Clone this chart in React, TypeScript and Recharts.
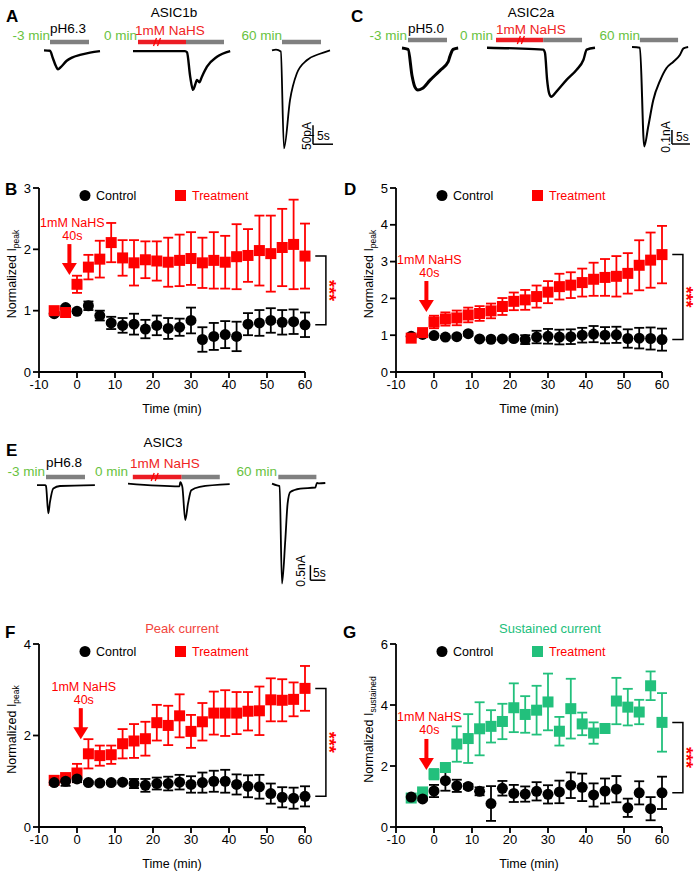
import React from "react"
import {
  ScatterChart, Scatter, XAxis, YAxis, ErrorBar, ReferenceDot, ReferenceArea,
  LineChart, Line, ReferenceLine,
} from "recharts"

const FONT = "'Liberation Sans', Arial, Helvetica, sans-serif"
const RED = "#ff0000"
const BAR_RED = "#ec1c24"
const TXT_RED = "#f02424"
const GREEN = "#22c07c"
const MIN_GREEN = "#68c23e"
const GRAY = "#808080"

// sampling times (min)
const TIMES = [-6, -3, 0, 3, 6, 9, 12, 15, 18, 21, 24, 27, 30, 33, 36, 39, 42, 45, 48, 51, 54, 57, 60]
const X_TICKS = [-10, 0, 10, 20, 30, 40, 50, 60]

// B - ASIC1b, normalized I peak
const B_CTRL = [0.95, 1.05, 0.99, 1.08, 0.92, 0.8, 0.76, 0.78, 0.7, 0.76, 0.71, 0.73, 0.84, 0.53, 0.58, 0.61, 0.58, 0.78, 0.8, 0.84, 0.81, 0.82, 0.77]
const B_CTRL_ERR = [0.03, 0.03, 0.03, 0.07, 0.08, 0.1, 0.12, 0.17, 0.15, 0.16, 0.17, 0.14, 0.21, 0.2, 0.22, 0.22, 0.24, 0.18, 0.21, 0.2, 0.2, 0.2, 0.2]
const B_TREAT = [1.0, 0.97, 1.43, 1.71, 1.84, 2.11, 1.86, 1.78, 1.83, 1.81, 1.79, 1.82, 1.85, 1.78, 1.82, 1.79, 1.88, 1.9, 1.98, 1.93, 2.03, 2.08, 1.89]
const B_TREAT_ERR = [0.03, 0.07, 0.14, 0.2, 0.3, 0.32, 0.29, 0.37, 0.3, 0.32, 0.4, 0.42, 0.43, 0.41, 0.46, 0.43, 0.53, 0.43, 0.57, 0.62, 0.63, 0.73, 0.53]

// D - ASIC2a, normalized I peak
const D_CTRL = [0.97, 1.02, 0.99, 0.95, 0.96, 1.04, 0.9, 0.89, 0.9, 0.91, 0.88, 0.95, 0.97, 0.95, 0.96, 1.0, 1.03, 1.0, 1.01, 0.91, 0.92, 0.91, 0.88]
const D_CTRL_ERR = [0.03, 0.03, 0.03, 0.03, 0.03, 0.05, 0.03, 0.03, 0.03, 0.05, 0.12, 0.17, 0.2, 0.2, 0.2, 0.2, 0.22, 0.22, 0.22, 0.25, 0.28, 0.3, 0.3]
const D_TREAT = [0.92, 1.07, 1.36, 1.44, 1.47, 1.55, 1.59, 1.66, 1.78, 1.92, 1.96, 2.05, 2.17, 2.32, 2.36, 2.43, 2.52, 2.57, 2.6, 2.68, 2.9, 3.04, 3.19]
const D_TREAT_ERR = [0.03, 0.04, 0.17, 0.18, 0.2, 0.2, 0.2, 0.2, 0.23, 0.24, 0.27, 0.3, 0.3, 0.35, 0.35, 0.38, 0.45, 0.5, 0.55, 0.55, 0.68, 0.75, 0.78]

// F - ASIC3, peak current
const F_CTRL = [0.97, 1.0, 1.05, 0.97, 0.96, 0.97, 0.98, 0.95, 0.91, 0.95, 0.95, 0.98, 0.93, 0.97, 1.0, 1.0, 0.93, 0.89, 0.88, 0.73, 0.65, 0.63, 0.67]
const F_CTRL_ERR = [0.03, 0.1, 0.07, 0.03, 0.03, 0.03, 0.03, 0.1, 0.14, 0.13, 0.15, 0.16, 0.18, 0.22, 0.23, 0.25, 0.22, 0.24, 0.26, 0.22, 0.22, 0.23, 0.22]
const F_TREAT = [1.02, 1.08, 1.18, 1.6, 1.56, 1.58, 1.82, 1.88, 1.93, 2.28, 2.22, 2.43, 2.09, 2.3, 2.49, 2.49, 2.49, 2.53, 2.54, 2.78, 2.77, 2.79, 3.03]
const F_TREAT_ERR = [0.03, 0.05, 0.2, 0.32, 0.22, 0.2, 0.32, 0.37, 0.37, 0.39, 0.43, 0.47, 0.36, 0.41, 0.47, 0.5, 0.46, 0.42, 0.53, 0.47, 0.46, 0.37, 0.49]

// G - ASIC3, sustained current
const G_CTRL = [0.98, 0.92, 1.18, 1.52, 1.35, 1.33, 1.17, 0.77, 1.27, 1.1, 1.08, 1.17, 1.07, 1.15, 1.37, 1.3, 1.05, 1.18, 1.24, 0.63, 1.12, 0.6, 1.12]
const G_CTRL_ERR = [0.05, 0.05, 0.2, 0.33, 0.2, 0.08, 0.13, 0.57, 0.24, 0.28, 0.25, 0.3, 0.3, 0.37, 0.42, 0.45, 0.38, 0.41, 0.43, 0.3, 0.38, 0.38, 0.53]
const G_TREAT = [0.95, 1.15, 1.73, 1.95, 2.72, 2.9, 3.22, 3.3, 3.46, 3.91, 3.69, 3.83, 4.1, 3.14, 3.88, 3.38, 3.08, 3.23, 4.13, 3.93, 3.77, 4.63, 3.43]
const G_TREAT_ERR = [0.05, 0.05, 0.17, 0.1, 0.58, 0.8, 0.87, 0.53, 0.58, 0.8, 0.6, 0.8, 0.93, 0.47, 0.98, 0.37, 0.35, 0.1, 0.76, 0.6, 0.4, 0.47, 0.96]

// example current traces: time (s) and current (pA for A, nA for C/E)
const A1_T = [0, 1.5, 2.2, 3, 3.5, 4.2, 5.6, 7, 9, 11.5, 14]
const A1_I = [0, -1, -20, -42, -50, -44, -28, -19, -12, -6, -2]
const A2_T = [0, 13, 13.5, 14.3, 15, 15.5, 16, 16.6, 17.2, 18.5, 21, 24.3]
const A2_I = [0, 0, -3, -67, -102, -90, -76, -82, -68, -41, -15, 0]
const A3_T = [0, 1, 2.2, 3, 4.5, 6.2, 8.7, 12, 14.5]
const A3_I = [0, 2, -3, -258, -131, -61, -26, -9, 0]

const C1_T = [0, 1.7, 2.8, 3.6, 4.4, 5.6, 7.8, 10.6, 12.8, 13.3, 14.2, 15.6]
const C1_I = [0, -0.01, -0.2, -0.28, -0.3, -0.29, -0.23, -0.16, -0.1, -0.06, -0.01, 0]
const C2_T = [0, 8, 15.6, 16.1, 16.7, 17.2, 17.8, 19.4, 22.1, 24.9, 26.8, 27.7, 30]
const C2_I = [0, -0.005, -0.014, -0.036, -0.23, -0.32, -0.35, -0.31, -0.23, -0.157, -0.086, -0.014, 0]
const C3_T = [0, 2.2, 3.4, 4.5, 5.9, 7.8, 9.6, 11.5, 13.3, 14.3, 15.6]
const C3_I = [0, -0.005, -0.71, -0.57, -0.38, -0.24, -0.15, -0.105, -0.057, -0.01, 0]

const E1_T = [0, 2.67, 3, 3.77, 4.33, 5.43, 7.67, 19.3]
const E1_I = [0, 0, -0.03, -0.94, -0.56, -0.11, -0.03, 0]
const E2_T = [0, 17.2, 17.4, 18.1, 19.1, 20, 21.1, 23.9, 33.9]
const E2_I = [0, -0.09, 0.05, -0.1, -1.22, -0.67, -0.22, -0.11, -0.02]
const E3_T = [0, 1.67, 2.53, 3.33, 4.43, 5.2, 6.1, 9.43, 14.43, 15, 15.6, 17.77]
const E3_I = [0, -0.06, -0.08, -3.33, -1.89, -0.67, -0.28, -0.17, -0.13, 0.02, 0.01, 0.02]

const rows = (v: number[], e: number[]) => TIMES.map((t, k) => ({ t, v: v[k], err: e[k] }))

const AX = { stroke: "#000", strokeWidth: 1.8 }
const TICK = { fontSize: 13, fill: "#000", fontFamily: FONT }

const circleShape = (p: any) => <circle cx={p.cx} cy={p.cy} r={5.5} fill="#000" />
const squareShape = (color: string) => (p: any) =>
  <rect x={p.cx - 5.5} y={p.cy - 5.5} width={11} height={11} fill={color} />

const bracket = (p: any) => {
  const { x, y, width, height } = p
  const xr = x + width
  return (
    <g>
      <polyline points={`${x},${y} ${xr},${y} ${xr},${y + height} ${x},${y + height}`}
        fill="none" stroke="#000" strokeWidth={1.5} />
      <text transform={`translate(${xr - 3},${y + height / 2}) rotate(90)`} textAnchor="middle"
        fontSize={18} fontWeight="bold" fill={RED} fontFamily={FONT}>***</text>
    </g>
  )
}

const arrowShape = (p: any) => {
  const { cx, cy } = p
  return (
    <g fontFamily={FONT} fontSize={12.5} fill={RED}>
      <text x={cx + 3} y={cy - 48.5} textAnchor="middle">1mM NaHS</text>
      <text x={cx + 3} y={cy - 35.5} textAnchor="middle">40s</text>
      <rect x={cx - 2} y={cy - 31} width={4} height={20} />
      <polygon points={`${cx - 7.5},${cy - 12} ${cx + 7.5},${cy - 12} ${cx},${cy}`} />
    </g>
  )
}

const xLabel = (p: any) => (
  <text x={p.viewBox.x + p.viewBox.width / 2} y={p.viewBox.y + 41} textAnchor="middle"
    fontSize={12.5} fill="#000" fontFamily={FONT}>Time (min)</text>
)

const yLabel = (sub: string) => (p: any) => {
  const cx = p.viewBox.x + 16
  const cy = p.viewBox.y + p.viewBox.height / 2 - 6
  return (
    <text transform={`translate(${cx},${cy}) rotate(-90)`} textAnchor="middle"
      fontSize={12.5} fill="#000" fontFamily={FONT}>
      Normalized I<tspan fontSize={8.5} dy={3}>{sub}</tspan>
    </text>
  )
}

function TimePanel({ left, plotTop, plotH, ctrl, ctrlErr, treat, treatErr, yMax, yTicks, color, arrow, sub, treatFirst }: any) {
  const last = TIMES.length - 1
  const sCtrl = (
    <Scatter key="c" data={rows(ctrl, ctrlErr)} shape={circleShape} isAnimationActive={false}>
      <ErrorBar dataKey="err" direction="y" width={5} stroke="#000" strokeWidth={1.8} isAnimationActive={false} />
    </Scatter>
  )
  const sTreat = (
    <Scatter key="t" data={rows(treat, treatErr)} shape={squareShape(color)} isAnimationActive={false}>
      <ErrorBar dataKey="err" direction="y" width={5} stroke={color} strokeWidth={1.8} isAnimationActive={false} />
    </Scatter>
  )
  return (
    <div style={{ position: "absolute", left, top: plotTop - 13 }}>
      <ScatterChart width={350} height={plotH + 60} margin={{ top: 13, right: 45, bottom: 12, left: 0 }}>
        <XAxis type="number" dataKey="t" domain={[-10, 60]} ticks={X_TICKS} height={35}
          tickSize={6} tickMargin={2} axisLine={AX} tickLine={AX} tick={TICK} label={xLabel} />
        <YAxis type="number" dataKey="v" domain={[0, yMax]} ticks={yTicks} width={39}
          tickSize={6} tickMargin={2} axisLine={AX} tickLine={AX} tick={TICK} label={yLabel(sub)} />
        {treatFirst ? [sTreat, sCtrl] : [sCtrl, sTreat]}
        <ReferenceArea x1={62.7} x2={65.5} y1={ctrl[last]} y2={treat[last]} ifOverflow="visible" shape={bracket} />
        <ReferenceDot x={arrow[0]} y={arrow[1]} ifOverflow="visible" shape={arrowShape} />
      </ScatterChart>
    </div>
  )
}

const breakShape = (p: any) => (
  <g stroke={RED} strokeWidth={1.3}>
    <line x1={p.cx - 3.5} y1={p.cy + 4} x2={p.cx - 0.5} y2={p.cy - 4} />
    <line x1={p.cx + 0.5} y1={p.cy + 4} x2={p.cx + 3.5} y2={p.cy - 4} />
  </g>
)

function Trace({ x0, y0, pxS, pxU, ts, is, lvl, bars, brk, sb, sw }: any) {
  const data = ts.map((t: number, k: number) => ({ t, i: is[k] }))
  let tMax = ts[ts.length - 1]
  let iMin = Math.min(...is)
  if (sb) {
    tMax = Math.max(tMax, sb.t + sb.dt)
    iMin = Math.min(iMin, sb.i)
  }
  const tLo = -4 / pxS, tHi = tMax + 4 / pxS
  const uLo = iMin - 4 / pxU, uHi = lvl + 5 / pxU
  const w = (tHi - tLo) * pxS, h = (uHi - uLo) * pxU
  return (
    <div style={{ position: "absolute", left: x0 + tLo * pxS, top: y0 - uHi * pxU }}>
      <LineChart width={w} height={h} data={data} margin={{ top: 0, right: 0, bottom: 0, left: 0 }}>
        <XAxis type="number" dataKey="t" domain={[tLo, tHi]} hide />
        <YAxis type="number" domain={[uLo, uHi]} hide />
        {bars.map((b: any, k: number) => (
          <ReferenceLine key={k} segment={[{ x: b.t1, y: lvl }, { x: b.t2, y: lvl }]} stroke={b.c} strokeWidth={4.5} />
        ))}
        {brk != null && <ReferenceDot x={brk} y={lvl} shape={breakShape} />}
        {sb && <ReferenceLine segment={[{ x: sb.t, y: sb.i }, { x: sb.t, y: sb.i + sb.di }]} stroke="#000" strokeWidth={1.5} />}
        {sb && <ReferenceLine segment={[{ x: sb.t, y: sb.i }, { x: sb.t + sb.dt, y: sb.i }]} stroke="#000" strokeWidth={1.5} />}
        <Line type="monotone" dataKey="i" stroke="#000" strokeWidth={sw} dot={false} isAnimationActive={false} />
      </LineChart>
    </div>
  )
}

function Legend2({ L, T, color }: any) {
  return (
    <g fontSize={12.5} fontFamily={FONT}>
      <circle cx={L + 46} cy={T + 7.5} r={5.5} fill="#000" />
      <text x={L + 57} y={T + 11.5} fill="#000">Control</text>
      <rect x={L + 136} y={T + 2} width={11} height={11} fill={color} />
      <text x={L + 153} y={T + 11.5} fill={RED}>Treatment</text>
    </g>
  )
}

export default function App() {
  const lab = { fontFamily: FONT, fontSize: 13.5 }
  return (
    <div style={{ position: "absolute", left: 0, top: 0, width: 700, height: 877, background: "#fff", fontFamily: FONT }}>
      {/* A: ASIC1b traces */}
      <Trace x0={44} y0={50} pxS={4} pxU={0.38} ts={A1_T} is={A1_I} lvl={22} sw={2.4}
        bars={[{ t1: 1.5, t2: 11.25, c: GRAY }]} />
      <Trace x0={133} y0={51} pxS={4} pxU={0.38} ts={A2_T} is={A2_I} lvl={24} sw={2.4} brk={6}
        bars={[{ t1: 1.25, t2: 13.25, c: BAR_RED }, { t1: 13.25, t2: 22.75, c: GRAY }]} />
      <Trace x0={272} y0={50} pxS={4} pxU={0.38} ts={A3_T} is={A3_I} lvl={22} sw={1.8}
        bars={[{ t1: 2.5, t2: 12.25, c: GRAY }]} sb={{ t: 10.25, i: -247, dt: 5, di: 50 }} />

      {/* C: ASIC2a traces */}
      <Trace x0={402} y0={48} pxS={3.6} pxU={140} ts={C1_T} is={C1_I} lvl={0.057} sw={3}
        bars={[{ t1: 1.67, t2: 12.5, c: GRAY }]} />
      <Trace x0={487} y0={47.7} pxS={3.6} pxU={140} ts={C2_T} is={C2_I} lvl={0.055} sw={2.4} brk={9.4}
        bars={[{ t1: 2.5, t2: 15.6, c: BAR_RED }, { t1: 15.6, t2: 26.4, c: GRAY }]} />
      <Trace x0={632} y0={47} pxS={3.6} pxU={140} ts={C3_T} is={C3_I} lvl={0.05} sw={2}
        bars={[{ t1: 2.2, t2: 12.8, c: GRAY }]} sb={{ t: 11.1, i: -0.693, dt: 5, di: 0.1 }} />

      {/* E: ASIC3 traces */}
      <Trace x0={37} y0={485} pxS={3} pxU={30} ts={E1_T} is={E1_I} lvl={0.27} sw={1.8}
        bars={[{ t1: 3, t2: 16, c: GRAY }]} />
      <Trace x0={128.3} y0={483.3} pxS={3} pxU={30} ts={E2_T} is={E2_I} lvl={0.22} sw={1.8} brk={8.9}
        bars={[{ t1: 1.6, t2: 17.9, c: BAR_RED }, { t1: 17.9, t2: 30.6, c: GRAY }]} />
      <Trace x0={271.7} y0={483.3} pxS={3} pxU={30} ts={E3_T} is={E3_I} lvl={0.22} sw={1.8}
        bars={[{ t1: 2.1, t2: 14.8, c: GRAY }]} sb={{ t: 12.8, i: -3.22, dt: 5, di: 0.5 }} />

      <TimePanel left={0} plotTop={188} plotH={184} ctrl={B_CTRL} ctrlErr={B_CTRL_ERR} treat={B_TREAT} treatErr={B_TREAT_ERR}
        yMax={3} yTicks={[0, 1, 2, 3]} color={RED} arrow={[-2, 1.58]} sub="peak" />
      <TimePanel left={357} plotTop={188} plotH={184} ctrl={D_CTRL} ctrlErr={D_CTRL_ERR} treat={D_TREAT} treatErr={D_TREAT_ERR}
        yMax={5} yTicks={[0, 1, 2, 3, 4, 5]} color={RED} arrow={[-2, 1.63]} sub="peak" />
      <TimePanel left={0} plotTop={644} plotH={183} ctrl={F_CTRL} ctrlErr={F_CTRL_ERR} treat={F_TREAT} treatErr={F_TREAT_ERR}
        yMax={4} yTicks={[0, 2, 4]} color={RED} arrow={[1, 1.92]} sub="peak" treatFirst />
      <TimePanel left={357} plotTop={644} plotH={183} ctrl={G_CTRL} ctrlErr={G_CTRL_ERR} treat={G_TREAT} treatErr={G_TREAT_ERR}
        yMax={6} yTicks={[0, 2, 4, 6]} color={GREEN} arrow={[-2, 1.87]} sub="sustained" treatFirst />

      <svg width={700} height={877} style={{ position: "absolute", left: 0, top: 0, pointerEvents: "none" }}>
        <g fontFamily={FONT} fontWeight="bold" fontSize={17} fill="#000">
          <text x={6} y={22}>A</text>
          <text x={351} y={22}>C</text>
          <text x={6} y={456}>E</text>
          <text x={5} y={195}>B</text>
          <text x={344} y={195}>D</text>
          <text x={5} y={638}>F</text>
          <text x={343} y={638}>G</text>
        </g>

        <g {...lab}>
          <text x={174} y={17} textAnchor="middle" fill="#000">ASIC1b</text>
          <text x={50} y={40} textAnchor="end" fill={MIN_GREEN}>-3 min</text>
          <text x={50} y={33} fill="#000">pH6.3</text>
          <text x={137} y={40} textAnchor="end" fill={MIN_GREEN}>0 min</text>
          <text x={135} y={35} fill={TXT_RED}>1mM NaHS</text>
          <text x={282} y={40} textAnchor="end" fill={MIN_GREEN}>60 min</text>

          <text x={531} y={17} textAnchor="middle" fill="#000">ASIC2a</text>
          <text x={407} y={40} textAnchor="end" fill={MIN_GREEN}>-3 min</text>
          <text x={408} y={33} fill="#000">pH5.0</text>
          <text x={493} y={40} textAnchor="end" fill={MIN_GREEN}>0 min</text>
          <text x={496} y={34} fill={TXT_RED}>1mM NaHS</text>
          <text x={640} y={40} textAnchor="end" fill={MIN_GREEN}>60 min</text>

          <text x={163} y={447} textAnchor="middle" fill="#000">ASIC3</text>
          <text x={45} y={476} textAnchor="end" fill={MIN_GREEN}>-3 min</text>
          <text x={46} y={467} fill="#000">pH6.8</text>
          <text x={128} y={476} textAnchor="end" fill={MIN_GREEN}>0 min</text>
          <text x={130} y={467.5} fill={TXT_RED}>1mM NaHS</text>
          <text x={277} y={476} textAnchor="end" fill={MIN_GREEN}>60 min</text>
        </g>

        <g fontFamily={FONT} fontSize={12} fill="#000">
          <text transform="translate(311,136) rotate(-90)" textAnchor="middle">50pA</text>
          <text x={317} y={140}>5s</text>
          <text transform="translate(670,137) rotate(-90)" textAnchor="middle">0.1nA</text>
          <text x={676} y={141}>5s</text>
          <text transform="translate(305,571) rotate(-90)" textAnchor="middle">0.5nA</text>
          <text x={313} y={577}>5s</text>
        </g>

        <g fontFamily={FONT} fontSize={13}>
          <text x={182} y={633} textAnchor="middle" fill="#f2453d">Peak current</text>
          <text x={550} y={633} textAnchor="middle" fill={GREEN}>Sustained current</text>
        </g>

        <Legend2 L={39} T={188} color={RED} />
        <Legend2 L={396} T={188} color={RED} />
        <Legend2 L={39} T={644} color={RED} />
        <Legend2 L={396} T={644} color={GREEN} />
      </svg>
    </div>
  )
}
